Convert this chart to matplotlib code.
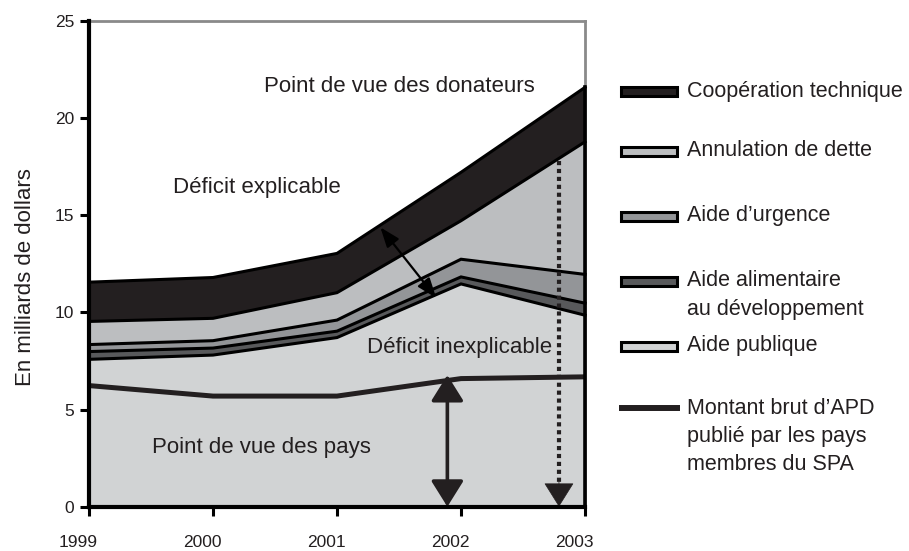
import matplotlib
matplotlib.use("Agg")
import matplotlib.pyplot as plt
import numpy as np
from matplotlib.patches import Rectangle
from matplotlib.lines import Line2D
import matplotlib.transforms as mtransforms

plt.rcParams['font.family'] = ['Liberation Sans', 'DejaVu Sans']

# ---- data (billions of dollars) ----
years = [1999, 2000, 2001, 2002, 2003]
aide_publique = [7.58, 7.80, 8.70, 11.46, 9.85]
aide_alimentaire = [0.40, 0.36, 0.33, 0.36, 0.62]
aide_urgence = [0.36, 0.38, 0.57, 0.91, 1.48]
annulation_dette = [1.19, 1.15, 1.41, 1.98, 6.82]
cooperation_technique = [2.02, 2.10, 2.02, 2.49, 2.80]
montant_brut_apd = [6.23, 5.69, 5.69, 6.59, 6.68]

series_colors = ["#d1d3d4", "#58595b", "#939598", "#bcbec0", "#231f20"]

# annotation arrows (data coordinates)
arrow_diag = [(2001.35, 14.37), (2001.80, 10.74)]
arrow_solid = [(2001.89, 6.77), (2001.89, 0.0)]
arrow_dotted = [(2002.79, 17.8), (2002.79, 0.0)]

labels_txt = [("Point de vue des donateurs", 2001.5, 21.6),
              ("Déficit explicable", 2000.35, 16.43),
              ("Déficit inexplicable", 2001.99, 8.21),
              ("Point de vue des pays", 2000.39, 3.03)]

TXT = "#231f20"

fig = plt.figure(figsize=(9.09, 5.51), dpi=100)
W, H = 909, 551
ax = fig.add_axes([89 / W, 1 - 506.7 / H, (585 - 89) / W, (506.7 - 20.7) / H])

x = np.array(years, dtype=float)
layers = [aide_publique, aide_alimentaire, aide_urgence, annulation_dette, cooperation_technique]
base = np.zeros(len(x))
tops = []
for vals, col in zip(layers, series_colors):
    top = base + np.array(vals)
    ax.fill_between(x, base, top, color=col, linewidth=0, zorder=1)
    tops.append(top)
    base = top
for top in tops:
    ax.plot(x, top, color="black", lw=2.2, zorder=3, solid_joinstyle="miter", clip_on=False)
# right closing edge of the areas
ax.plot([x[-1], x[-1]], [0, tops[-1][-1]], color="black", lw=2.6, zorder=6, clip_on=False)

ax.plot(x, montant_brut_apd, color="#231f20", lw=3.6, zorder=4, solid_capstyle="butt")

# arrows
ax.annotate("", xy=arrow_diag[0], xytext=arrow_diag[1],
            arrowprops=dict(arrowstyle="<|-|>,head_length=12,head_width=4.5", mutation_scale=1,
                            lw=1.6, color="black", shrinkA=0, shrinkB=0), zorder=7)
ax.annotate("", xy=arrow_solid[0], xytext=arrow_solid[1],
            arrowprops=dict(arrowstyle="<|-|>,head_length=16,head_width=10", mutation_scale=1,
                            lw=2.6, color="#231f20", shrinkA=0, shrinkB=0), zorder=7)
xd = arrow_dotted[0][0]
ax.plot([xd, xd], [arrow_dotted[0][1], 1.0], color="#231f20", lw=3.0,
        linestyle=(0, (1, 0.9)), dash_capstyle="butt", zorder=7)
ax.annotate("", xy=arrow_dotted[1], xytext=(xd, 1.3),
            arrowprops=dict(arrowstyle="-|>,head_length=16,head_width=10", mutation_scale=1,
                            lw=0.5, color="#231f20", shrinkA=0, shrinkB=0), zorder=7)

for t, tx, ty in labels_txt:
    ax.text(tx, ty, t, ha="center", va="center", fontsize=16, color=TXT, zorder=8)

ax.set_xlim(1999, 2003)
ax.set_ylim(0, 25)
ax.set_xticks(years)
ax.set_xticklabels([str(y) for y in years])
ax.set_yticks([0, 5, 10, 15, 20, 25])
for s in ["left", "bottom"]:
    ax.spines[s].set_color("black")
    ax.spines[s].set_linewidth(3)
    ax.spines[s].set_zorder(9)
for s in ["top", "right"]:
    ax.spines[s].set_color("#8a8a8a")
    ax.spines[s].set_linewidth(2)
ax.tick_params(axis="both", direction="out", length=6.5, width=2.2, color="black",
               labelsize=12.5, labelcolor=TXT)
ax.tick_params(axis="x", pad=14)
ax.tick_params(axis="y", pad=4)
off = mtransforms.ScaledTranslation(-11 / 100, 0, fig.dpi_scale_trans)
for lab in ax.get_xticklabels():
    lab.set_transform(lab.get_transform() + off)
ax.set_facecolor("white")

fig.text(26 / W, 1 - 277 / H, "En milliards de dollars", rotation=90, ha="center", va="center",
         fontsize=16, color=TXT)

# legend (manual)
LFS = 15.5
leg_items = [("Coopération technique", series_colors[4], 91),
             ("Annulation de dette", series_colors[3], 151),
             ("Aide d\u2019urgence", series_colors[2], 216),
             ("Aide alimentaire", series_colors[1], 281),
             ("Aide publique", series_colors[0], 346)]
for name, col, yc in leg_items:
    fig.patches.append(Rectangle((620.5 / W, 1 - (yc + 4.5) / H), 56 / W, 9 / H,
                                 transform=fig.transFigure, facecolor=col, edgecolor="black",
                                 lw=2.2))
    fig.text(687 / W, 1 - yc / H, name, ha="left", va="center", fontsize=LFS, color=TXT)
fig.text(687 / W, 1 - 310 / H, "au développement", ha="left", va="center", fontsize=LFS, color=TXT)
fig.lines.append(Line2D([619 / W, 680 / W], [1 - 408 / H, 1 - 408 / H], transform=fig.transFigure,
                        color="#231f20", lw=4.3, solid_capstyle="butt"))
for i, line in enumerate(["Montant brut d\u2019APD", "publié par les pays", "membres du SPA"]):
    fig.text(687 / W, 1 - (408 + 28.5 * i) / H, line, ha="left", va="center", fontsize=LFS, color=TXT)

fig.savefig("out.png", dpi=100)
